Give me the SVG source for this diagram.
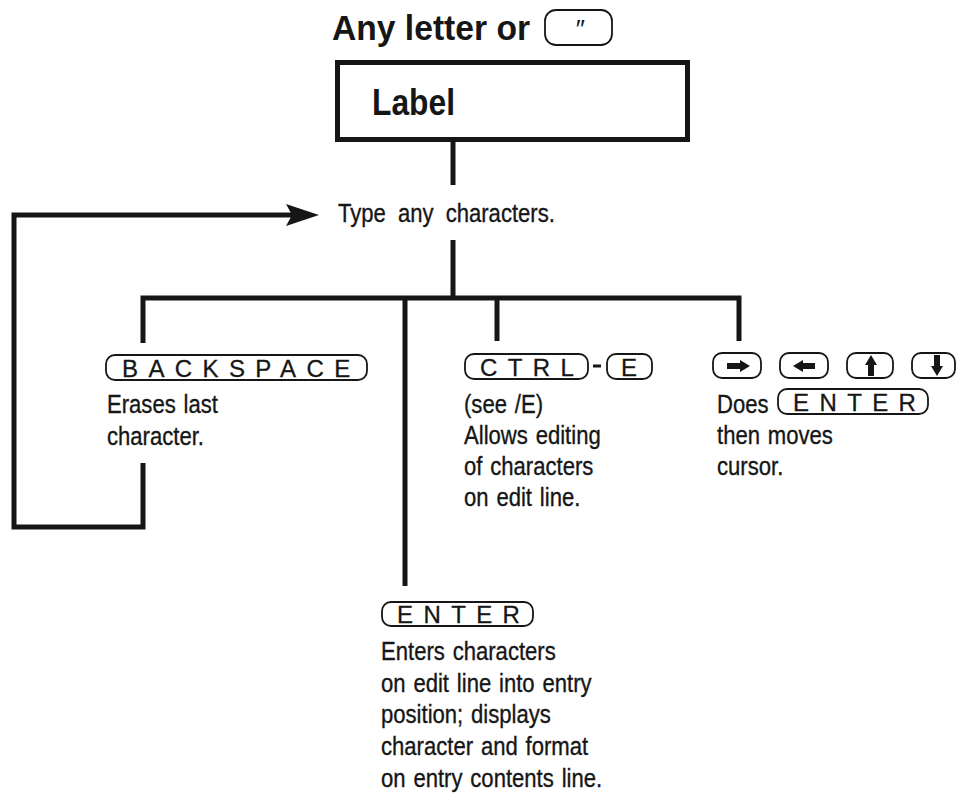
<svg xmlns="http://www.w3.org/2000/svg" width="957" height="793" viewBox="0 0 957 793">
<style>
  .ln { fill: none; stroke: #161616; stroke-width: 5; stroke-linejoin: miter; stroke-linecap: butt; }
  .key { fill: #fff; stroke: #161616; stroke-width: 1.8; }
  .kt { font-family: "Liberation Sans", Arial, sans-serif; font-size: 24px; fill: #161616; stroke: #161616; stroke-width: 0.3; letter-spacing: 10.4px; }
  .tx { font-family: "Liberation Sans", Arial, sans-serif; font-size: 26px; fill: #161616; stroke: #161616; stroke-width: 0.35; word-spacing: 2px; }
  .bt { font-family: "Liberation Sans", Arial, sans-serif; font-weight: bold; fill: #161616; }
  .sym { fill: #161616; }
</style>
<rect width="957" height="793" fill="#fff"/>

<g id="connectors">
  <line class="ln" x1="453" y1="142" x2="453" y2="185"/>
  <line class="ln" x1="453" y1="240" x2="453" y2="298"/>
  <path class="ln" d="M143,343 V298 H739 V341"/>
  <line class="ln" x1="405" y1="298" x2="405" y2="586"/>
  <line class="ln" x1="497" y1="298" x2="497" y2="341"/>
  <path class="ln" d="M143,463 V527 H14 V215 H292"/>
  <polygon class="sym" points="286,204 319,215 286,226 292,215"/>
</g>

<g id="title">
  <text class="bt" x="332" y="40" font-size="35" textLength="198" lengthAdjust="spacingAndGlyphs">Any letter or</text>
  <rect class="key" x="545" y="10" width="67" height="35" rx="11"/>
  <text x="579" y="38" font-family="Liberation Sans, sans-serif" font-style="italic" font-size="26" fill="#161616" text-anchor="middle">″</text>
</g>

<g id="label">
  <rect x="337.5" y="62.5" width="350" height="77" fill="#fff" stroke="#161616" stroke-width="5"/>
  <text class="bt" x="372" y="115" font-size="36" textLength="83" lengthAdjust="spacingAndGlyphs">Label</text>
</g>

<g id="type">
  <text class="tx" transform="translate(338 222) scale(0.85 1)" style="word-spacing:7px">Type any characters.</text>
</g>

<g id="backspace">
  <rect class="key" x="106" y="355" width="261" height="25" rx="9"/>
  <text class="kt" x="122" y="377">BACKSPACE</text>
  <text class="tx" transform="translate(107 413) scale(0.85 1)">Erases last</text>
  <text class="tx" transform="translate(107 445) scale(0.85 1)">character.</text>
</g>

<g id="ctrl-e">
  <rect class="key" x="465" y="354" width="123" height="25" rx="9"/>
  <text class="kt" x="480" y="376">CTRL</text>
  <line x1="593" y1="366" x2="601" y2="366" stroke="#161616" stroke-width="3"/>
  <rect class="key" x="607" y="354" width="45" height="25" rx="9"/>
  <text class="kt" x="621" y="376">E</text>
  <text class="tx" transform="translate(464 413) scale(0.85 1)">(see /E)</text>
  <text class="tx" transform="translate(464 444) scale(0.85 1)">Allows editing</text>
  <text class="tx" transform="translate(464 475) scale(0.85 1)">of characters</text>
  <text class="tx" transform="translate(464 506) scale(0.85 1)">on edit line.</text>
</g>

<g id="arrows">
  <rect class="key" x="713" y="353" width="48" height="25" rx="9"/>
  <polygon class="sym" points="727,363 740,363 740,360 750,366 740,372 740,369 727,369"/>
  <rect class="key" x="780" y="353" width="48" height="25" rx="9"/>
  <polygon class="sym" points="815,363 803,363 803,360 793,366 803,372 803,369 815,369"/>
  <rect class="key" x="847" y="353" width="46" height="25" rx="9"/>
  <polygon class="sym" points="868,376 868,365 865,365 871,355 877,365 874,365 874,376"/>
  <rect class="key" x="912" y="353" width="43" height="25" rx="9"/>
  <polygon class="sym" points="934,355 934,366 931,366 937,376 943,366 940,366 940,355"/>
  <text class="tx" transform="translate(717 413) scale(0.85 1)">Does</text>
  <rect class="key" x="778" y="389" width="150" height="25" rx="9"/>
  <text class="kt" x="793" y="411">ENTER</text>
  <text class="tx" transform="translate(717 444) scale(0.85 1)">then moves</text>
  <text class="tx" transform="translate(717 475) scale(0.85 1)">cursor.</text>
</g>

<g id="enter">
  <rect class="key" x="382" y="602" width="151" height="24" rx="9"/>
  <text class="kt" x="397" y="623">ENTER</text>
  <text class="tx" transform="translate(381 660) scale(0.85 1)">Enters characters</text>
  <text class="tx" transform="translate(381 692) scale(0.85 1)">on edit line into entry</text>
  <text class="tx" transform="translate(381 723) scale(0.85 1)">position; displays</text>
  <text class="tx" transform="translate(381 755) scale(0.85 1)">character and format</text>
  <text class="tx" transform="translate(381 787) scale(0.85 1)">on entry contents line.</text>
</g>
</svg>
